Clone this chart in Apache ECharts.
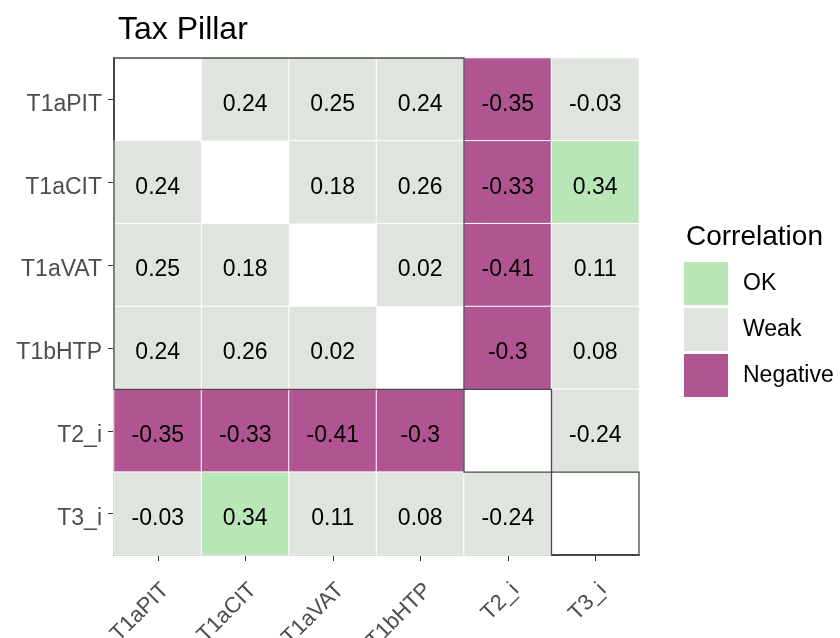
<!DOCTYPE html>
<html>
<head>
<meta charset="utf-8">
<script src="https://cdn.jsdelivr.net/npm/echarts@6/dist/echarts.min.js"></script>
<style>
  html, body { margin: 0; padding: 0; background: #fff; }
  #main { width: 840px; height: 638px; }
</style>
</head>
<body>
<div id="main"></div>
<script>
// variables, in axis order (top to bottom / left to right)
var vars = ["T1aPIT", "T1aCIT", "T1aVAT", "T1bHTP", "T2_i", "T3_i"];

// correlation rows (null on the diagonal)
var rowT1aPIT = [null, 0.24, 0.25, 0.24, -0.35, -0.03];
var rowT1aCIT = [0.24, null, 0.18, 0.26, -0.33, 0.34];
var rowT1aVAT = [0.25, 0.18, null, 0.02, -0.41, 0.11];
var rowT1bHTP = [0.24, 0.26, 0.02, null, -0.3, 0.08];
var rowT2 = [-0.35, -0.33, -0.41, -0.3, null, -0.24];
var rowT3 = [-0.03, 0.34, 0.11, 0.08, -0.24, null];
var rows = [rowT1aPIT, rowT1aCIT, rowT1aVAT, rowT1bHTP, rowT2, rowT3];

// groups outlined with a box: [first var, last var]
var groups = [["T1aPIT", "T1bHTP"], ["T2_i", "T2_i"], ["T3_i", "T3_i"]];

var cells = [];
rows.forEach(function(r, yi) {
  r.forEach(function(v, xi) {
    if (v !== null) cells.push([xi, yi, v]);
  });
});

var font = "Liberation Sans, Arial, Helvetica, sans-serif";
var chart = echarts.init(document.getElementById("main"));

chart.setOption({
  backgroundColor: "#ffffff",
  animation: false,
  textStyle: { fontFamily: font },
  title: [
    {
      text: "Tax Pillar",
      left: 113,
      top: 9,
      textStyle: { fontSize: 32, fontWeight: "normal", color: "#000", fontFamily: font }
    },
    {
      text: "Correlation",
      left: 681,
      top: 218,
      textStyle: { fontSize: 28, fontWeight: "normal", color: "#000", fontFamily: font }
    }
  ],
  grid: { left: 114, top: 58, right: 201, bottom: 83, outerBoundsMode: "none" },
  xAxis: {
    type: "category",
    data: vars,
    splitArea: { show: false },
    axisLine: { show: true, lineStyle: { color: "#000", width: 1.5 } },
    axisTick: { show: true, alignWithLabel: true, length: 6, lineStyle: { color: "#333" } },
    axisLabel: {
      rotate: 45, fontSize: 22, color: "#4d4d4d", margin: 24, interval: 0,
      align: "right", verticalAlign: "top", fontFamily: font
    }
  },
  yAxis: {
    type: "category",
    data: vars,
    inverse: true,
    splitArea: { show: false },
    axisLine: { show: true, lineStyle: { color: "#000", width: 1.5 } },
    axisTick: { show: true, alignWithLabel: true, length: 6, lineStyle: { color: "#333" } },
    axisLabel: {
      margin: 12,
      formatter: function(v) { return "{a|" + v + "}"; },
      rich: {
        a: { fontSize: 23, color: "#4d4d4d", fontFamily: font, padding: [10, 0, 0, 0] }
      }
    }
  },
  visualMap: {
    type: "piecewise",
    dimension: 2,
    orient: "vertical",
    align: "left",
    left: 669,
    top: 247,
    itemWidth: 44,
    itemHeight: 43,
    itemGap: 3,
    itemSymbol: "rect",
    textGap: 15,
    selectedMode: false,
    hoverLink: false,
    textStyle: { fontSize: 23, color: "#000", fontFamily: font },
    pieces: [
      { lte: -0.3, label: "Negative", color: "#b05592" },
      { gt: -0.3, lt: 0.3, label: "Weak", color: "#e0e4df" },
      { gte: 0.3, label: "OK", color: "#b8e6b6" }
    ]
  },
  series: [
    {
      type: "heatmap",
      data: cells,
      itemStyle: { borderColor: "#ffffff", borderWidth: 1 },
      label: {
        show: true,
        fontSize: 23,
        color: "#000",
        offset: [0, 5],
        fontFamily: font,
        formatter: function(p) { return String(p.value[2]); }
      },
      emphasis: { disabled: true }
    }
  ]
});

// outline boxes around groups, placed from the axes
function drawBoxes() {
  var c0 = chart.convertToPixel({ xAxisIndex: 0 }, vars[0]);
  var c1 = chart.convertToPixel({ xAxisIndex: 0 }, vars[1]);
  var r0 = chart.convertToPixel({ yAxisIndex: 0 }, vars[0]);
  var r1 = chart.convertToPixel({ yAxisIndex: 0 }, vars[1]);
  var bw = c1 - c0, bh = r1 - r0;
  var shapes = groups.map(function(g) {
    var xa = chart.convertToPixel({ xAxisIndex: 0 }, g[0]) - bw / 2;
    var xb = chart.convertToPixel({ xAxisIndex: 0 }, g[1]) + bw / 2;
    var ya = chart.convertToPixel({ yAxisIndex: 0 }, g[0]) - bh / 2;
    var yb = chart.convertToPixel({ yAxisIndex: 0 }, g[1]) + bh / 2;
    return {
      type: "rect",
      shape: { x: xa, y: ya, width: xb - xa, height: yb - ya },
      style: { fill: null, stroke: "#4a4a4a", lineWidth: 1.3 },
      z: 100,
      silent: true
    };
  });
  chart.setOption({ graphic: shapes });
}
drawBoxes();

window.onresize = function() {
  chart.resize();
  drawBoxes();
};
</script>
</body>
</html>
